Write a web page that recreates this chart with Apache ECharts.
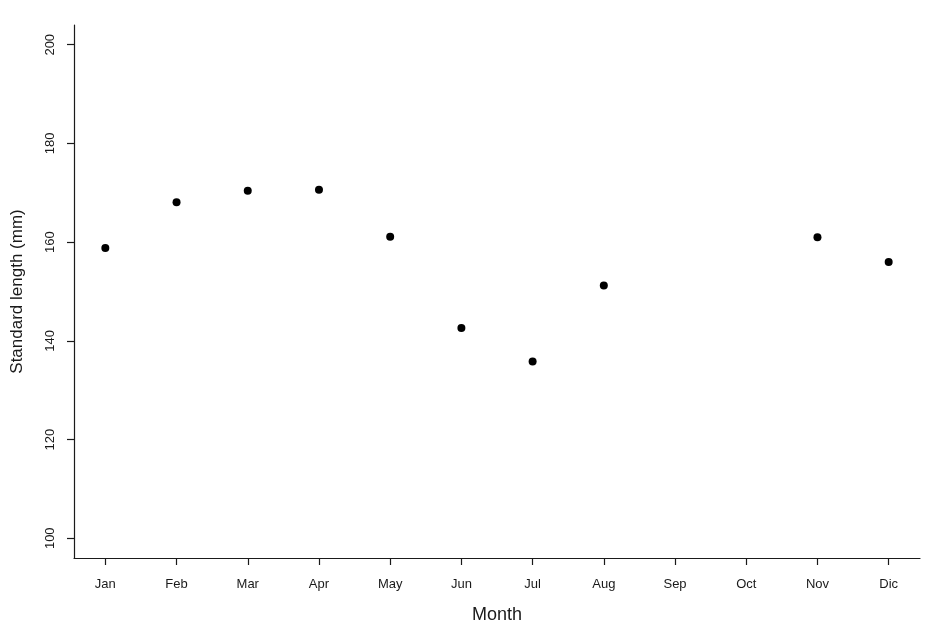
<!DOCTYPE html>
<html>
<head>
<meta charset="utf-8">
<script src="https://cdn.jsdelivr.net/npm/echarts@6/dist/echarts.min.js"></script>
<style>
  html, body { margin: 0; padding: 0; background: #fff; }
  #chart { width: 937px; height: 634px; }
</style>
</head>
<body>
<div id="chart"></div>
<script>
// month labels as printed on the chart (Spanish "Dic")
const months = ['Jan', 'Feb', 'Mar', 'Apr', 'May', 'Jun', 'Jul', 'Aug', 'Sep', 'Oct', 'Nov', 'Dic']
// mean standard length per month, no sample for Sep/Oct
const lengths = [158.8, 168.1, 170.4, 170.6, 161.1, 142.6, 135.8, 151.2, null, null, 161.0, 156.0]
const yTicks = [100, 120, 140, 160, 180, 200]
const xTicks = months.map((m, i) => i + 1)

const points = []
lengths.forEach((v, i) => {
  if (v !== null) points.push([i + 1, v])
})

const font = 'Liberation Sans, Arial, sans-serif'
const ink = '#1a1a1a'

const chart = echarts.init(document.getElementById('chart'))
chart.setOption({
  animation: false,
  backgroundColor: '#fff',
  grid: {
    left: 74,
    right: 17,
    top: 25,
    bottom: 76,
    containLabel: false,
    outerBoundsMode: 'none'
  },
  xAxis: {
    type: 'value',
    min: 0.56,
    max: 12.44,
    name: 'Month',
    nameLocation: 'middle',
    nameGap: 48,
    nameTextStyle: { fontSize: 18, color: ink, fontFamily: font },
    axisLine: { show: true, onZero: false, lineStyle: { color: ink, width: 1.2 } },
    axisTick: { show: true, length: 7, customValues: xTicks, lineStyle: { color: ink, width: 1.2 } },
    axisLabel: {
      customValues: xTicks,
      margin: 20,
      fontSize: 13,
      color: ink,
      fontFamily: font,
      formatter: v => months[Math.round(v) - 1]
    },
    splitLine: { show: false }
  },
  yAxis: {
    type: 'value',
    min: 96,
    max: 204,
    name: 'Standard length (mm)',
    nameLocation: 'middle',
    nameGap: 48,
    nameTextStyle: { fontSize: 17, color: ink, fontFamily: font },
    axisLine: { show: true, onZero: false, lineStyle: { color: ink, width: 1.2 } },
    axisTick: { show: true, length: 7, customValues: yTicks, lineStyle: { color: ink, width: 1.2 } },
    axisLabel: {
      customValues: yTicks,
      rotate: 90,
      margin: 17,
      fontSize: 13,
      color: ink,
      fontFamily: font
    },
    splitLine: { show: false }
  },
  series: [
    {
      type: 'scatter',
      data: points,
      symbol: 'circle',
      symbolSize: 8,
      itemStyle: { color: '#000', opacity: 1 }
    }
  ]
})
</script>
</body>
</html>
